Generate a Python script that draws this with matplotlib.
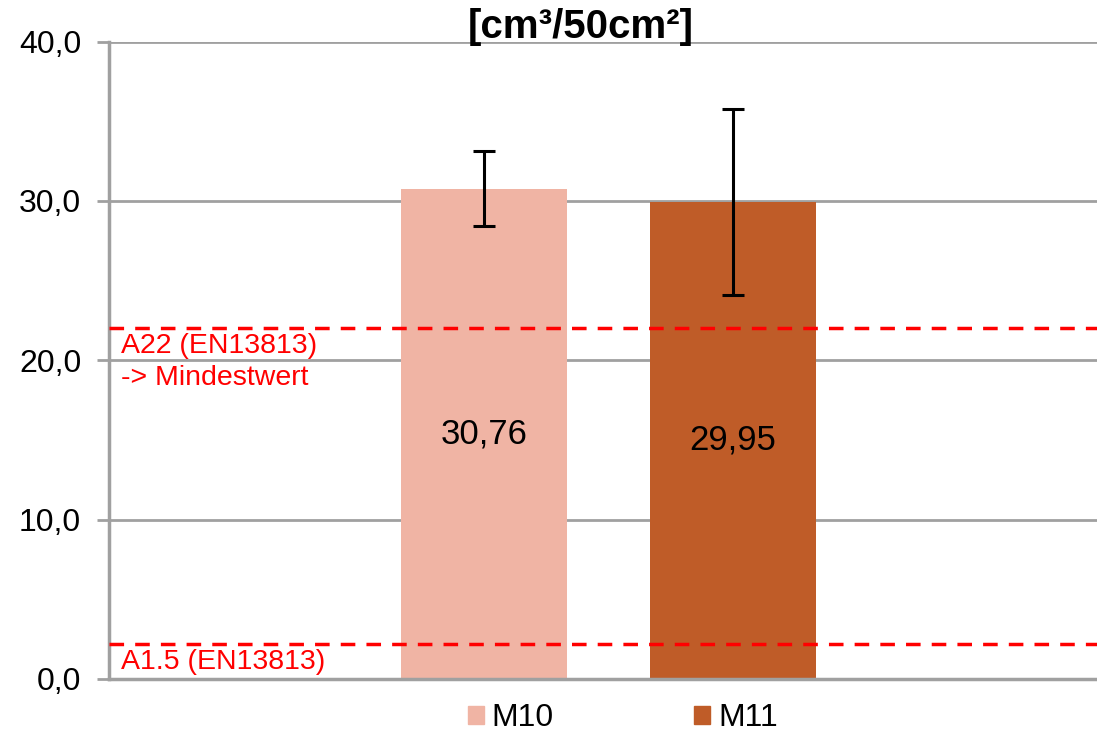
import matplotlib.pyplot as plt

plt.rcParams['font.family'] = ['Liberation Sans', 'DejaVu Sans']

# Data
samples = ["M10", "M11"]
values = [30.76, 29.95]
errors = [2.35, 5.84]
colors = ["#F0B4A4", "#BF5C28"]
value_labels = ["30,76", "29,95"]
ref_values = [22.0, 2.2]
ref_labels = ["A22 (EN13813)\n-> Mindestwert", "A1.5 (EN13813)"]
yticks = [0, 10, 20, 30, 40]
ytick_labels = ["0,0", "10,0", "20,0", "30,0", "40,0"]

fig = plt.figure(figsize=(10.97, 7.35), dpi=100)
ax = fig.add_axes([109/1097, 1 - 679/735, (1097-109)/1097, (679-41.5)/735])

grid_color = "#A0A0A0"
for y in yticks:
    ax.axhline(y, color=grid_color, lw=2, zorder=0)

x = [0, 1]
ax.bar(x, values, width=0.667, color=colors, zorder=2)
ax.errorbar(x, values, yerr=errors, fmt="none", ecolor="black",
            elinewidth=2.2, capsize=8, capthick=2.2, zorder=3)

for xi, v, lab in zip(x, values, value_labels):
    ax.text(xi, v / 2, lab, ha="center", va="center", fontsize=25, color="black", zorder=4)

for rv, rl in zip(ref_values, ref_labels):
    ax.axhline(rv, color="#FF0000", lw=2.5, dashes=(4.2, 3.2), zorder=4)
    ax.text(-1.455, rv - 0.3, rl, ha="left", va="top", fontsize=20.5,
            color="#FF0000", linespacing=1.3, zorder=5)

ax.set_xlim(-1.505, 2.463)
ax.set_ylim(0, 40)
ax.set_yticks(yticks)
ax.set_yticklabels(ytick_labels, fontsize=23)
ax.tick_params(axis="y", length=9, width=2, color=grid_color, pad=11)
ax.set_xticks([])

for side in ["top", "right"]:
    ax.spines[side].set_visible(False)
ax.spines["left"].set_color(grid_color)
ax.spines["left"].set_linewidth(2.5)
ax.spines["bottom"].set_color(grid_color)
ax.spines["bottom"].set_linewidth(2.5)

fig.text(581/1097, 1 - 27/735, "[cm³/50cm²]", ha="center", va="center",
         fontsize=29, fontweight="bold")

handles = [plt.Rectangle((0, 0), 1, 1, color=c) for c in colors]
fig.legend(handles, samples, loc="center", bbox_to_anchor=(623/1097, 1 - 718/735),
           ncol=2, frameon=False, fontsize=23, handlelength=0.5, handleheight=0.5,
           handletextpad=0.25, columnspacing=4.4, borderaxespad=0, borderpad=0)

fig.savefig("out.png", dpi=100)
plt.close()
